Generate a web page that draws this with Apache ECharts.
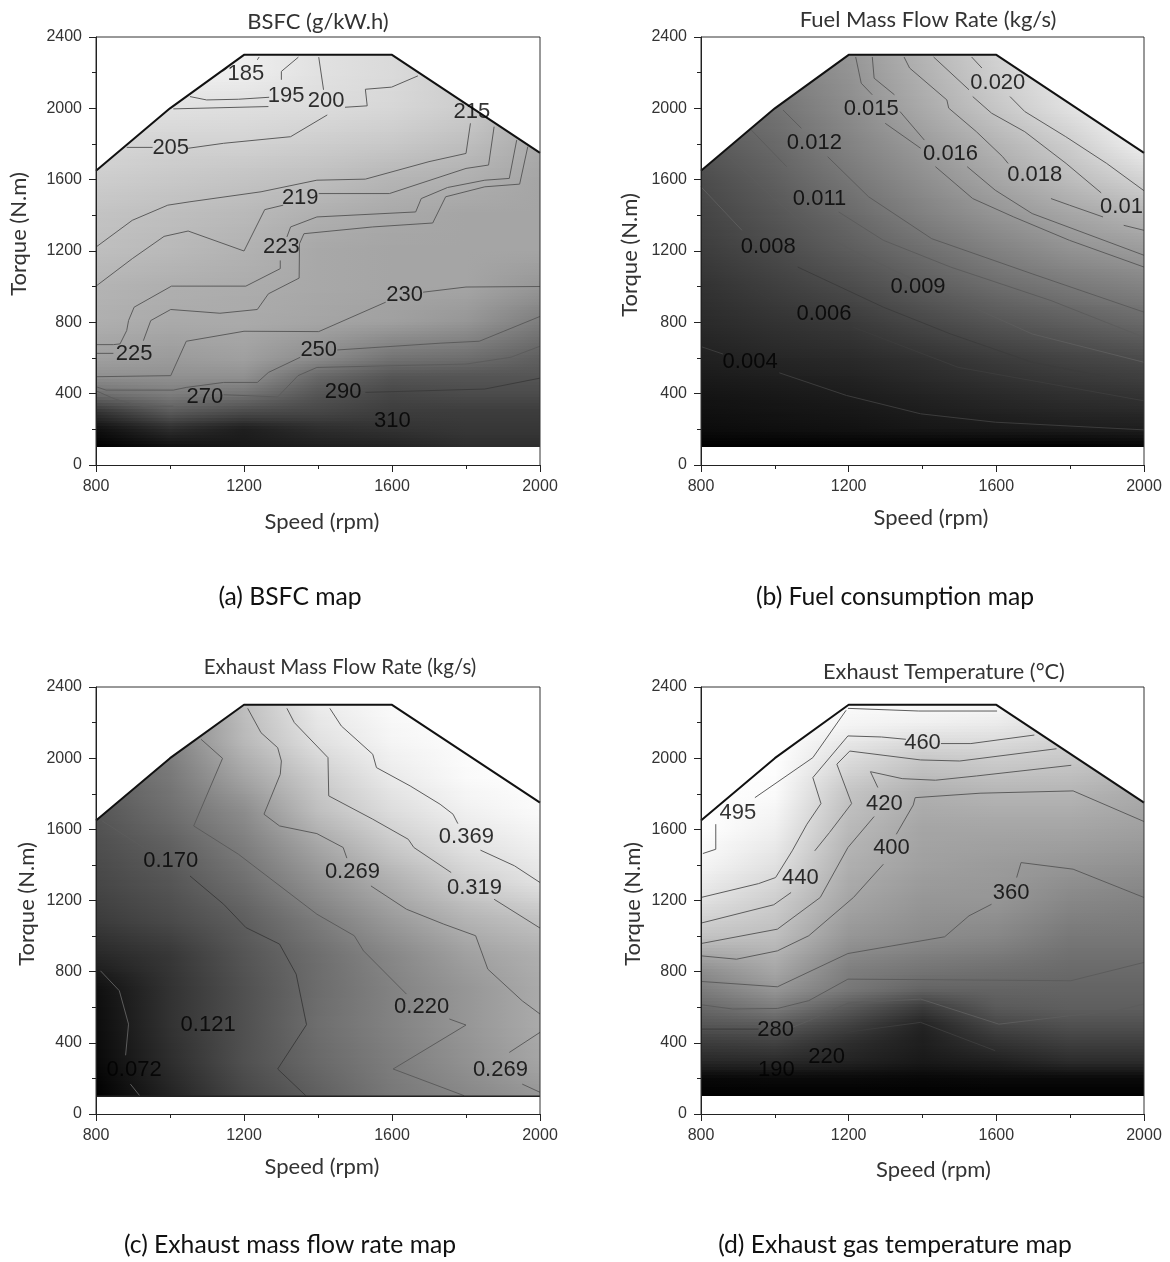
<!DOCTYPE html>
<html>
<head>
<meta charset="utf-8">
<style>html,body{margin:0;padding:0;background:#fff}#c{width:1170px;height:1262px}</style>
<script src="https://cdn.jsdelivr.net/npm/echarts@6/dist/echarts.min.js"></script>
</head>
<body>
<div id="c"></div>
<script>
// Shared axes and operating envelope (speed rpm, torque N.m)
const speedNodes = [800,1000,1200,1400,1600,1800,2000];
const speedTicks = [800,1200,1600,2000];
const torqueTicks = [0,400,800,1200,1600,2000,2400];
const envelopeSpeed = [800,1000,1200,1600,2000];
const envelopeTorque = [1650,2000,2300,2300,1750];

// (a) BSFC
const bsfcRows = [100,200,300,400,500,600,800,1000,1200,1400,1600,1800,2000,2200,2300];
const bsfcShade = [
[0,15,25,30,35,45,45],
[15,45,30,45,50,55,55],
[50,90,75,70,60,60,60],
[110,125,115,85,70,75,75],
[145,145,145,105,85,85,85],
[160,155,160,140,115,110,95],
[175,170,170,165,160,150,125],
[180,175,172,168,165,165,150],
[190,185,178,168,165,165,165],
[195,190,185,175,168,165,165],
[205,200,195,190,180,175,165],
[215,210,210,205,200,190,170],
[225,225,222,220,215,205,175],
[240,240,238,225,218,205,185],
[240,240,238,225,218,205,185]];
const bsfcContours = [
[[1054,2066],[1099,2047],[1185,2051],[1268,2062]],
[[1301,2160],[1301,2207],[1347,2287]],
[[1142,2207],[1155,2226]],
[[1241,2288],[1236,2272]],
[[1009,1997],[1266,2010]],
[[1402,2287],[1415,2104]],
[[1473,2006],[1533,2014],[1528,2107],[1599,2119],[1670,2182]],
[[883,1781],[953,1781]],
[[1049,1776],[1145,1804],[1326,1841],[1425,1963]],
[[1812,1916],[1800,1747],[1700,1701],[1528,1603],[1397,1597],[1246,1532],[1054,1476],[994,1457],[898,1372],[800,1222]],
[[1876,1897],[1861,1682],[1800,1663],[1593,1522],[1402,1522]],
[[1306,1457],[1256,1432],[1200,1200],[1049,1312],[984,1282],[898,1157],[800,1003]],
[[1937,1822],[1917,1607],[1851,1597],[1750,1556],[1679,1494],[1664,1419],[1397,1391],[1326,1335],[1316,1279]],
[[1298,1147],[1298,1101],[1205,1003],[1004,1003],[903,885],[888,810],[883,754],[865,679],[847,675],[800,675]],
[[1967,1785],[1945,1575],[1851,1560],[1745,1504],[1710,1357],[1548,1335],[1362,1297],[1350,1241],[1349,1048],[1266,960],[1236,872],[1135,851],[1002,872],[948,810],[928,697]],
[[847,626],[800,626]],
[[2000,1001],[1800,998],[1684,969]],
[[1583,913],[1402,748],[1200,750],[1044,694],[1002,501],[800,495]],
[[2000,833],[1836,694],[1730,683],[1452,645]],
[[1352,604],[1266,519],[1236,463],[1145,463],[1044,435],[1009,420],[827,420],[800,439]],
[[2000,666],[1921,604],[1800,566],[1397,547],[1346,501],[1291,382],[1145,394]],
[[1009,330],[923,330],[852,369],[800,416]],
[[2000,487],[1851,426],[1528,407]]];
const bsfcFaint = [22];
const bsfcLabels = ['185','195','200','205','215','219','223','225','230','250','270','290','310'];
const bsfcLabelPos = [[1205,2194],[1314,2070],[1422,2042],[1002,1776],[1816,1978],[1352,1498],[1301,1222],[903,622],[1634,954],[1402,647],[1094,379],[1468,412],[1601,247]];

// (b) Fuel mass flow
const fuelRows = [100,200,400,600,800,1000,1200,1400,1600,1800,2000,2300];
const fuelShade = [
[0,0,0,0,0,0,5],
[12,15,18,22,25,28,30],
[20,24,28,35,42,48,52],
[32,38,42,50,60,68,75],
[42,50,58,72,85,95,105],
[50,62,75,92,108,120,130],
[60,75,92,110,128,145,155],
[68,85,105,128,148,165,180],
[75,95,118,142,165,188,210],
[88,105,130,155,180,205,240],
[100,115,140,170,198,225,250],
[120,130,150,180,210,235,255]];
const fuelContours = [
[[1533,2288],[1561,2226]],
[[1637,2066],[1677,1982],[1788,1841],[1899,1691],[2000,1538]],
[[1430,2288],[1526,2104]],
[[1536,2066],[1587,1973],[1677,1869],[1789,1691],[1884,1526]],
[[1350,2288],[1365,2226],[1466,2047],[1471,2001],[1546,1869],[1617,1729],[1632,1691]],
[[1748,1494],[1798,1457],[1889,1391]],
[[1945,1344],[2000,1316]],
[[1264,2288],[1269,2169],[1324,2076]],
[[1339,1982],[1405,1822]],
[[1521,1673],[1597,1541],[1697,1410],[2000,1176]],
[[1219,2288],[1234,2141],[1264,2076]],
[[1299,1916],[1395,1776]],
[[1435,1673],[1536,1494],[1647,1391],[1798,1260],[2000,1110]],
[[1022,1991],[1072,1888]],
[[1143,1729],[1254,1504],[1425,1269],[1697,1072],[2000,857]],
[[936,1879],[1032,1673]],
[[1173,1419],[1294,1260],[1476,1110],[1748,922],[2000,716]],
[[871,1738],[992,1504],[1092,1326],[1284,1129],[1496,922],[1697,735],[2000,576]],
[[800,1560],[911,1316]],
[[1062,1110],[1294,885],[1476,735],[1697,576],[2000,454]],
[[800,1185],[990,922]],
[[1213,772],[1496,548],[2000,360]],
[[800,664],[860,622]],
[[1012,517],[1194,390],[1395,287],[1597,240],[2000,197]]];
const fuelFaint = [19,20,21,22,23];
const fuelLabels = ['0.020','0.015','0.012','0.016','0.018','0.011','0.01','0.008','0.009','0.006','0.004'];
const fuelLabelPos = [[1604,2141],[1261,1997],[1107,1807],[1476,1744],[1704,1626],[1121,1494],[1939,1448],[982,1222],[1388,997],[1133,847],[933,579]];

// (c) Exhaust mass flow
const exhaustRows = [100,300,500,700,900,1100,1300,1500,1700,1900,2100,2300];
const exhaustShade = [
[0,35,70,95,120,135,150],
[8,45,80,105,125,145,165],
[12,50,80,110,130,150,170],
[15,50,80,108,130,150,170],
[40,55,85,110,135,160,175],
[60,75,95,125,155,180,195],
[70,85,110,145,175,205,225],
[78,95,125,165,200,225,240],
[85,110,140,190,220,240,250],
[95,120,165,205,235,250,255],
[105,130,185,225,245,252,255],
[110,130,190,235,250,255,255]];
const exhaustContours = [
[[1432,2280],[1463,2181],[1548,2022],[1558,1947],[1649,1844],[1730,1741],[1765,1685],[1778,1632]],
[[1839,1483],[1931,1395],[2000,1301]],
[[1316,2280],[1336,2200],[1427,2003],[1429,1788],[1548,1657],[1644,1544],[1659,1498],[1760,1357]],
[[1876,1207],[2000,1045]],
[[1210,2280],[1246,2143],[1291,2059],[1301,1984],[1298,1909],[1254,1685],[1296,1619],[1397,1576],[1468,1498],[1478,1438]],
[[1543,1282],[1639,1151],[1740,1067],[1826,1002],[1841,917],[1859,814],[1952,636],[2000,562]],
[[1084,2106],[1142,1999],[1064,1619],[1185,1460],[1397,1123],[1498,1002],[1523,917],[1639,674]],
[[1755,534],[1800,500],[1603,253],[1795,103]],
[[817,1647],[928,1498]],
[[1054,1338],[1145,1179],[1205,1048],[1296,955],[1341,786],[1369,502],[1291,253],[1367,103]],
[[812,805],[863,693],[888,505],[880,330]],
[[893,168],[918,103]],
[[2000,459],[1917,346]],
[[1952,168],[2000,122]]];
const exhaustFaint = [9];
const exhaustBaseSpeed = [800,2000];
const exhaustBaseTorque = [100,100];
const exhaustLabels = ['0.369','0.319','0.269','0.170','0.220','0.121','0.072','0.269'];
const exhaustLabelPos = [[1801,1559],[1823,1273],[1493,1363],[1002,1423],[1680,599],[1103,502],[903,247],[1893,247]];

// (d) Exhaust temperature
const tempRows = [100,200,300,400,500,600,700,800,1000,1200,1400,1600,1800,2000,2200,2300];
const tempShade = [
[0,0,0,0,0,0,0],
[8,10,10,8,10,10,10],
[40,42,35,25,32,45,45],
[60,65,45,30,50,62,62],
[85,90,65,35,70,80,80],
[105,125,90,60,90,95,95],
[125,150,120,100,100,100,100],
[140,165,125,115,110,105,105],
[195,190,150,140,135,120,120],
[225,205,165,150,150,135,130],
[245,225,175,160,155,150,145],
[255,240,185,165,165,165,160],
[255,250,195,175,180,180,170],
[255,255,220,200,205,200,190],
[255,255,245,240,235,220,210],
[255,255,250,248,248,230,220]];
const tempContours = [
[[1198,2280],[1390,2265],[1602,2265]],
[[1193,2269],[1103,2003],[946,1778]],
[[840,1629],[840,1488],[805,1464]],
[[1703,2130],[1531,2082],[1450,2082]],
[[1355,2106],[1289,2119],[1198,2125],[1103,1891],[1125,1745],[1087,1629],[1047,1479],[1002,1329],[956,1295],[800,1217]],
[[1763,2053],[1501,1984],[1395,1990],[1203,2040],[1168,1966],[1208,1745],[1148,1582],[1108,1479]],
[[1044,1245],[997,1176],[800,1073]],
[[1803,1960],[1546,1900],[1435,1876],[1345,1885],[1259,1924],[1279,1835]],
[[1269,1672],[1198,1498],[1123,1217],[1007,1039],[800,958]],
[[2000,1644],[1808,1816],[1556,1803],[1380,1778],[1375,1737],[1329,1572]],
[[1294,1404],[1213,1217],[1092,1002],[1007,917],[896,870],[800,889]],
[[2000,1217],[1808,1376],[1667,1413],[1655,1329]],
[[1587,1179],[1526,1114],[1460,996],[1198,902],[1007,715],[800,745]],
[[2000,852],[1802,749],[1198,758],[1092,637],[1007,593],[886,590],[800,614]],
[[2000,618],[1918,577],[1798,552],[1607,505],[1395,646],[1198,623],[1092,524],[1047,487]],
[[800,477],[956,477]],
[[1193,459],[1395,515],[1597,356]]];
const tempFaint = [15,16];
const tempLabels = ['460','495','420','400','440','360','280','220','190'];
const tempLabelPos = [[1400,2084],[900,1694],[1297,1745],[1316,1498],[1069,1329],[1640,1245],[1002,474],[1140,322],[1004,247]];

const panelTitles = ['BSFC (g/kW.h)','Fuel Mass Flow Rate (kg/s)','Exhaust Mass Flow Rate (kg/s)','Exhaust Temperature (\u00b0C)'];
const panelCaptions = ['(a) BSFC map','(b) Fuel consumption map','(c) Exhaust mass flow rate map','(d) Exhaust gas temperature map'];

const panels = [
 {rows:bsfcRows,shade:bsfcShade,contours:bsfcContours,faint:bsfcFaint,labels:bsfcLabels,pos:bsfcLabelPos,left:96,top:37,w:444,h:428,tx:318,ty:22,tf:22,cx:290,cy:598,xGap:46,xPad:8,yGap:66,yPad:34},
 {rows:fuelRows,shade:fuelShade,contours:fuelContours,faint:fuelFaint,labels:fuelLabels,pos:fuelLabelPos,left:701,top:37,w:443,h:428,tx:928,ty:20,tf:22,cx:895,cy:598,xGap:42,xPad:17,yGap:60,yPad:-8},
 {rows:exhaustRows,shade:exhaustShade,contours:exhaustContours,faint:exhaustFaint,labels:exhaustLabels,pos:exhaustLabelPos,base:[exhaustBaseSpeed,exhaustBaseTorque],left:96,top:687,w:444,h:427,tx:340,ty:668,tf:20.5,cx:290,cy:1246,xGap:42,xPad:8,yGap:58,yPad:-7},
 {rows:tempRows,shade:tempShade,contours:tempContours,faint:tempFaint,labels:tempLabels,pos:tempLabelPos,left:701,top:687,w:443,h:427,tx:944,ty:672,tf:21.7,cx:895,cy:1246,xGap:45,xPad:22,yGap:57,yPad:-7}
];

const FONT_TICK = 'Liberation Sans';
const FONT_TEXT = 'Lato';
const grids=[],xAxes=[],yAxes=[],series=[],titles=[];

function shadeItem(params, api){
  const s0=api.value(0),t0=api.value(1),s1=api.value(2),t1=api.value(3);
  const g=[api.value(4),api.value(5),api.value(6),api.value(7)];
  const pA=api.coord([s0,t0]),pB=api.coord([s1,t1]);
  const yA=Math.round(pA[1]),yB=Math.round(pB[1]),xA=Math.round(pA[0]),xB=Math.round(pB[0]);
  const n=Math.max(1,Math.round((yA-yB)/3));
  const children=[];
  const grey=v=>{const c=Math.round(v);return 'rgb('+c+','+c+','+c+')';};
  for(let k=0;k<n;k++){
    const f=(k+0.5)/n;
    const gl=g[0]+(g[2]-g[0])*f, gr=g[1]+(g[3]-g[1])*f;
    const yb=Math.round(yA+(yB-yA)*k/n), yt=Math.round(yA+(yB-yA)*(k+1)/n);
    children.push({type:'rect',silent:true,
      shape:{x:xA,y:yt,width:xB-xA,height:yb-yt},
      style:{fill:{type:'linear',x:0,y:0,x2:1,y2:0,colorStops:[{offset:0,color:grey(gl)},{offset:1,color:grey(gr)}]}}});
  }
  return {type:'group',children};
}

panels.forEach((p,i)=>{
  grids.push({left:p.left,top:p.top,width:p.w,height:p.h,show:false});
  xAxes.push({type:'value',gridIndex:i,min:800,max:2000,interval:400,z:6,
    name:'Speed (rpm)',nameLocation:'middle',nameGap:p.xGap,
    nameTextStyle:{fontFamily:FONT_TEXT,fontSize:22,color:'#333',padding:[0,0,0,p.xPad]},
    axisLine:{show:true,lineStyle:{color:'#222',width:1}},
    axisTick:{show:true,length:7,lineStyle:{color:'#222',width:1}},
    minorTick:{show:true,splitNumber:2,length:4,lineStyle:{color:'#222',width:1}},
    splitLine:{show:false},minorSplitLine:{show:false},
    axisLabel:{fontFamily:FONT_TICK,fontSize:16,color:'#333',margin:14,customValues:speedTicks,formatter:v=>String(v),showMinLabel:true,showMaxLabel:true,hideOverlap:false}});
  yAxes.push({type:'value',gridIndex:i,min:0,max:2400,interval:400,z:6,
    name:'Torque (N.m)',nameLocation:'middle',nameGap:p.yGap,
    nameTextStyle:{fontFamily:FONT_TEXT,fontSize:22,color:'#333',padding:p.yPad>=0?[0,0,0,p.yPad]:[0,-p.yPad,0,0]},
    axisLine:{show:true,lineStyle:{color:'#222',width:1}},
    axisTick:{show:true,length:7,lineStyle:{color:'#222',width:1}},
    minorTick:{show:true,splitNumber:2,length:4,lineStyle:{color:'#222',width:1}},
    splitLine:{show:false},minorSplitLine:{show:false},
    axisLabel:{fontFamily:FONT_TICK,fontSize:16,color:'#333',margin:14,customValues:torqueTicks,formatter:v=>String(v),showMinLabel:true,showMaxLabel:true}});

  // Shading from the read grey levels at each node
  const cells=[];
  for(let r=0;r<p.rows.length-1;r++){
    for(let c=0;c<speedNodes.length-1;c++){
      cells.push([speedNodes[c],p.rows[r],speedNodes[c+1],p.rows[r+1],p.shade[r][c],p.shade[r][c+1],p.shade[r+1][c],p.shade[r+1][c+1]]);
    }
  }
  series.push({type:'custom',xAxisIndex:i,yAxisIndex:i,silent:true,z:2,clip:true,data:cells,renderItem:shadeItem,
    encode:{x:[0,2],y:[1,3]}});

  // White mask above the operating envelope
  const maskPts=envelopeSpeed.map((s,k)=>[s,envelopeTorque[k]]).concat([[2000,2400],[800,2400]]);
  series.push({type:'custom',xAxisIndex:i,yAxisIndex:i,silent:true,z:3,clip:true,data:[maskPts.flat()],
    encode:{x:[0,2,4,6,8,10,12],y:[1,3,5,7,9,11,13]},
    renderItem:(params,api)=>{
      const pts=[];
      for(let k=0;k<7;k++) pts.push(api.coord([api.value(2*k),api.value(2*k+1)]));
      return {type:'polygon',silent:true,shape:{points:pts},style:{fill:'#fff'}};
    }});

  // Contour lines
  p.contours.forEach((line,k)=>{
    series.push({type:'line',name:'contour '+i+'-'+k,xAxisIndex:i,yAxisIndex:i,z:4,silent:true,symbol:'none',
      data:line,lineStyle:{color:p.faint.includes(k)?'#3c3c3c':'#5c5c5c',width:1},clip:true});
  });

  if(p.base){
    series.push({type:'line',xAxisIndex:i,yAxisIndex:i,z:5,silent:true,symbol:'none',
      data:p.base[0].map((s,k)=>[s,p.base[1][k]]),lineStyle:{color:'#222',width:1.5},clip:false});
  }

  // Envelope line
  series.push({type:'line',xAxisIndex:i,yAxisIndex:i,z:5,silent:true,symbol:'none',
    data:envelopeSpeed.map((s,k)=>[s,envelopeTorque[k]]),lineStyle:{color:'#111',width:2},clip:false});

  // Frame
  series.push({type:'line',xAxisIndex:i,yAxisIndex:i,z:5,silent:true,symbol:'none',
    data:[[800,0],[800,2400],[2000,2400],[2000,0]],lineStyle:{color:'#333',width:1},clip:false});

  // Contour labels
  series.push({type:'scatter',xAxisIndex:i,yAxisIndex:i,z:7,silent:true,symbolSize:1,itemStyle:{color:'rgba(0,0,0,0)'},clip:false,
    data:p.pos.map((q,k)=>({value:q,name:p.labels[k]})),
    label:{show:true,position:'inside',formatter:'{b}',fontFamily:FONT_TICK,fontSize:22,color:'#000',textBorderWidth:0,textShadowBlur:0},labelLayout:{hideOverlap:false}});

  titles.push({text:panelTitles[i],left:p.tx,top:p.ty-11,padding:0,textAlign:'center',textStyle:{fontFamily:FONT_TEXT,fontSize:p.tf,fontWeight:'normal',color:'#333'}});
  titles.push({text:panelCaptions[i],left:p.cx,top:p.cy-13,padding:0,textAlign:'center',textStyle:{fontFamily:FONT_TEXT,fontSize:24.7,fontWeight:'normal',color:'#111'}});
});

const chart=echarts.init(document.getElementById('c'),null,{renderer:'canvas'});
chart.setOption({animation:false,backgroundColor:'#fff',title:titles,grid:grids,xAxis:xAxes,yAxis:yAxes,series:series,tooltip:{show:false},legend:{show:false}});
</script>
</body>
</html>
